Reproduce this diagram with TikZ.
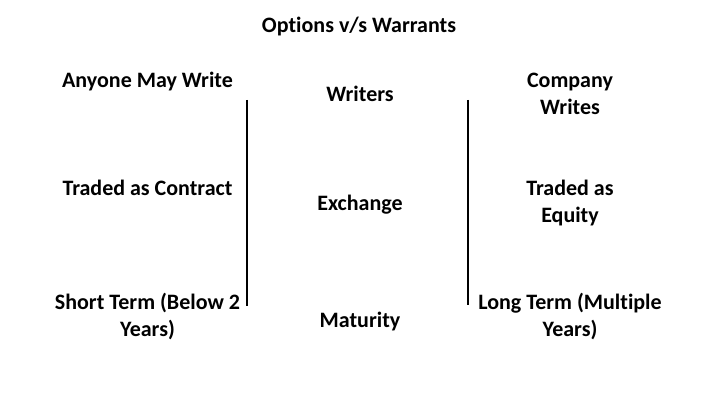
\documentclass[tikz,border=0pt]{standalone}
\usepackage{fontspec}
\setmainfont{Carlito}[Ligatures={NoCommon,NoContextual,NoRare},RawFeature={-liga;-clig;-calt}]
\usepackage{tikz}
\usetikzlibrary{positioning}
\tikzset{%
  cell/.style={anchor=base, align=center, inner sep=0pt, font=\bfseries\fontsize{22}{27}\selectfont},% column entry
  heading/.style={cell},% title
  divider/.style={line width=2.5pt}% vertical rule between columns
}
\begin{document}
\begin{tikzpicture}[x=1pt,y=1pt]
\useasboundingbox (0,0) rectangle (720,405);
\node[heading] (title) at (359, 372) {Options v/s Warrants};

\node[cell] (optwrite) at (147.5, 317) {Anyone May Write};
\node[cell] (opttrade) at (147.5, 210) {Traded as Contract};
\node[cell] (optterm) at (147.5, 69) {Short Term (Below 2\\Years)};

\node[cell] (writers) at (360, 303) {Writers};
\node[cell] (exchange) at (360, 195) {Exchange};
\node[cell] (maturity) at (360, 78) {Maturity};

\node[cell] (warwrite) at (570, 290) {Company\\Writes};
\node[cell] (wartrade) at (570, 183) {Traded as\\Equity};
\node[cell] (warterm) at (570, 69) {Long Term (Multiple\\Years)};

\coordinate (lefttop) at (247, 305);
\coordinate (leftbot) at (247, 99);
\coordinate (righttop) at (468, 305);
\coordinate (rightbot) at (468, 100);
\draw[divider] (lefttop) -- (leftbot);
\draw[divider] (righttop) -- (rightbot);
\end{tikzpicture}
\end{document}
